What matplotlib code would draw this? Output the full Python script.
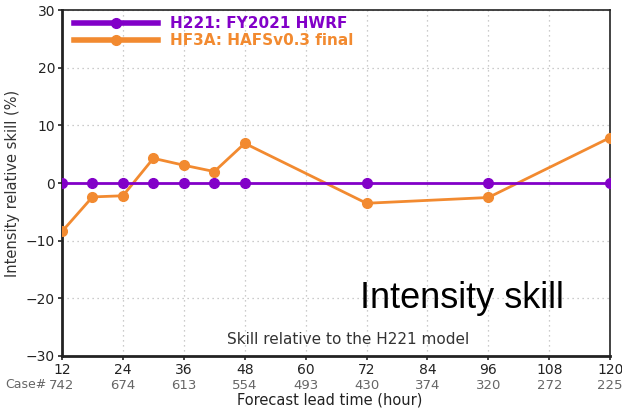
import matplotlib.pyplot as plt
from matplotlib.lines import Line2D

# forecast lead times and verification case counts
lead_hours = [12, 18, 24, 30, 36, 42, 48, 72, 96, 120]
h221_skill = [0, 0, 0, 0, 0, 0, 0, 0, 0, 0]
hf3a_skill = [-8.4, -2.4, -2.2, 4.3, 3.1, 2.0, 6.9, -3.5, -2.5, 7.9]

tick_hours = [12, 24, 36, 48, 60, 72, 84, 96, 108, 120]
case_counts = [742, 674, 613, 554, 493, 430, 374, 320, 272, 225]

purple = '#8200c8'
orange = '#f28a30'

fig = plt.figure(figsize=(6.22, 4.08), dpi=100, facecolor='white')
ax = fig.add_axes([0.0997, 0.1275, 0.8813, 0.8475])

ax.plot(lead_hours, h221_skill, color=purple, lw=2, marker='o', ms=7, zorder=4)
ax.plot(lead_hours, hf3a_skill, color=orange, lw=2, marker='o', ms=7, zorder=3)

ax.set_xlim(12, 120)
ax.set_ylim(-30, 30)
ax.set_xticks(tick_hours)
ax.set_yticks([-30, -20, -10, 0, 10, 20, 30])
ax.set_yticklabels(['\u221230', '\u221220', '\u221210', '0', '10', '20', '30'])
ax.tick_params(axis='both', labelsize=10, length=3, width=1.2, colors='#222222', pad=2)
ax.grid(True, ls=(0, (1, 3)), color='#bbbbbb', lw=0.9)
for sp in ax.spines.values():
    sp.set_linewidth(2)
    sp.set_color('#222222')
ax.spines['top'].set_linewidth(1.2)
ax.spines['right'].set_linewidth(1.2)

ax.set_ylabel('Intensity relative skill (%)', fontsize=10.5, color='#333333', labelpad=4)

# case counts under each tick
fig.text(5 / 622, 1 - 385 / 408, 'Case#', fontsize=9, color='#666666', va='center', ha='left')
for h, n in zip(tick_hours, case_counts):
    ax.annotate(str(n), xy=(h, -30), xycoords='data', xytext=(0, -21),
                textcoords='offset points', ha='center', va='center',
                fontsize=9.5, color='#666666')
fig.text(330 / 622, 1 - 400 / 408, 'Forecast lead time (hour)', fontsize=10.5,
         color='#222222', ha='center', va='center')

ax.text(348 / 622, 1 - 339 / 408, 'Skill relative to the H221 model', transform=fig.transFigure,
        fontsize=11, color='#333333', ha='center', va='center')
ax.text(462 / 622, 1 - 298 / 408, 'Intensity skill', transform=fig.transFigure,
        fontsize=26, family='Liberation Sans', color='black', ha='center', va='center')

handles = [
    Line2D([0], [0], color=purple, lw=4, marker='o', ms=7),
    Line2D([0], [0], color=orange, lw=4, marker='o', ms=7),
]
leg = ax.legend(handles, ['H221: FY2021 HWRF', 'HF3A: HAFSv0.3 final'],
                loc='upper left', bbox_to_anchor=(0.005, 1.01), frameon=False,
                handlelength=5.5, handletextpad=0.8, labelspacing=0.15,
                prop={'size': 11, 'weight': 'bold'}, borderaxespad=0.2)
for txt, c in zip(leg.get_texts(), [purple, orange]):
    txt.set_color(c)

fig.savefig('out.png', dpi=100, facecolor='white')
